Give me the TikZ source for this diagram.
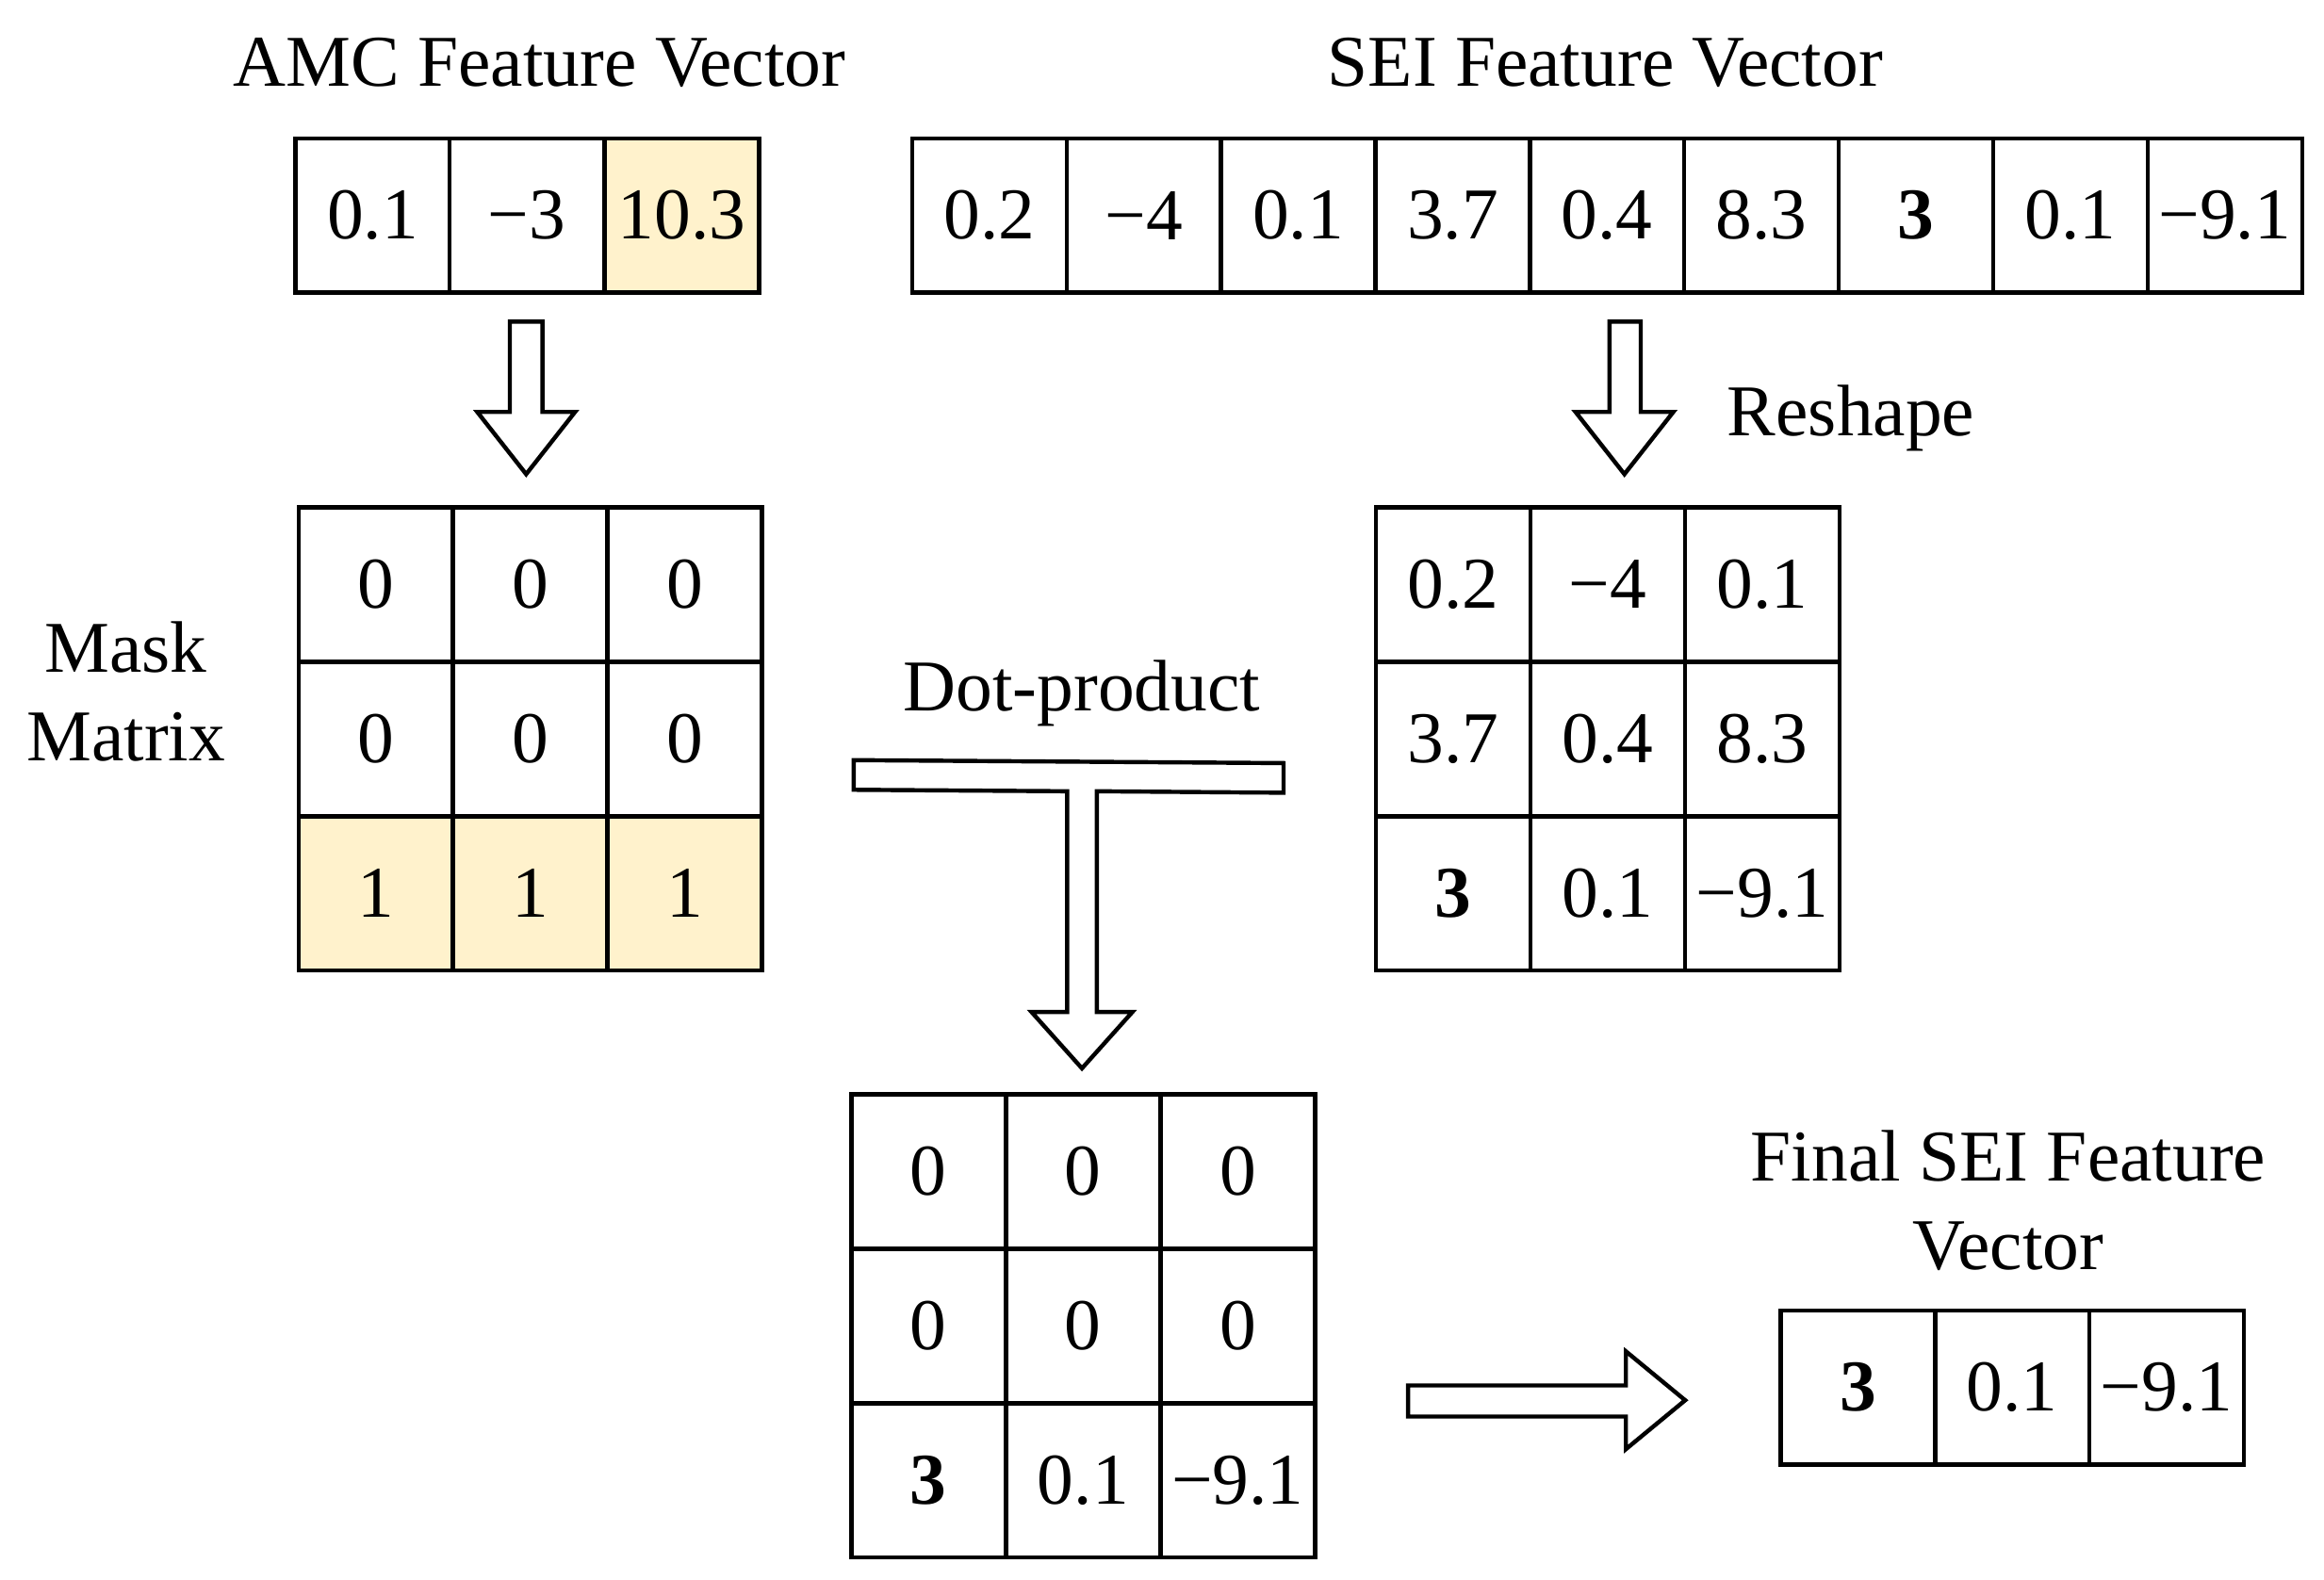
\documentclass[tikz,border=0pt]{standalone}
\usepackage{fontspec}
\setmainfont{Liberation Serif}
\definecolor{hl}{RGB}{255,242,204}
\begin{document}
\begin{tikzpicture}[x=0.01cm,y=-0.01cm,
  lbl/.style={font=\fontsize{14}{17}\selectfont,align=center},
  num/.style={font=\fontsize{14}{17}\selectfont},
  cellbox/.style={draw=black,line width=0.8pt},
  arr/.style={draw=black,line width=0.8pt,fill=white}]
\useasboundingbox (0,0) rectangle (1568,1066);
% cell macro: #1 x, #2 y (top-left), #3 text, #4 fill
\newcommand{\mycell}[5]{\node[cellbox,fill=#4,minimum width=104.2*0.01cm,minimum height=104*0.01cm,inner sep=0pt,anchor=north west,num] (#5) at (#1,#2) {#3};}
% AMC vector
\node[lbl] (tamc) at (364,42) {AMC Feature Vector};
\mycell{198}{92}{0.1}{white}{a1}
\mycell{302}{92}{−3}{white}{a2}
\mycell{406.5}{92}{10.3}{hl}{a3}
% SEI vector
\node[lbl] (tsei) at (1083,42) {SEI Feature Vector};
\foreach \t [count=\i from 0] in {0.2,−4,0.1,3.7,0.4,8.3,\textbf{3},0.1,−9.1}
  {\mycell{614+104.2*\i}{92}{\t}{white}{s\i}}
% down arrows
\draw[arr] (344,217) -- (366,217) -- (366,278) -- (388,278) -- (355,320) -- (322,278) -- (344,278) -- cycle;
\draw[arr] (1086,217) -- (1107,217) -- (1107,278) -- (1129,278) -- (1096,320) -- (1063,278) -- (1086,278) -- cycle;
\node[lbl,anchor=west] (resh) at (1153,282) {Reshape};
% mask matrix
\node[lbl] (mm) at (85,467) {Mask\\Matrix};
\foreach \r in {0,1,2}{\foreach \c in {0,1,2}{
  \ifnum\r=2 \mycell{200+104.3*\c}{341+104.3*\r}{1}{hl}{m\r\c}\else\mycell{200+104.3*\c}{341+104.3*\r}{0}{white}{m\r\c}\fi}}
% reshaped matrix
\mycell{927}{341}{0.2}{white}{r00}\mycell{1031.3}{341}{−4}{white}{r01}\mycell{1135.6}{341}{0.1}{white}{r02}
\mycell{927}{445.3}{3.7}{white}{r10}\mycell{1031.3}{445.3}{0.4}{white}{r11}\mycell{1135.6}{445.3}{8.3}{white}{r12}
\mycell{927}{549.6}{\textbf{3}}{white}{r20}\mycell{1031.3}{549.6}{0.1}{white}{r21}\mycell{1135.6}{549.6}{−9.1}{white}{r22}
% dot product T
\node[lbl] (dp) at (730,468) {Dot-product};
\draw[arr] (576,513) -- (866,515) -- (866,535) -- (740,534) -- (740,683) -- (764,683) -- (730,721) -- (696,683) -- (720,683) -- (720,534) -- (576,533) -- cycle;
% result matrix
\mycell{573}{737}{0}{white}{p00}\mycell{677.3}{737}{0}{white}{p01}\mycell{781.6}{737}{0}{white}{p02}
\mycell{573}{841.3}{0}{white}{p10}\mycell{677.3}{841.3}{0}{white}{p11}\mycell{781.6}{841.3}{0}{white}{p12}
\mycell{573}{945.6}{\textbf{3}}{white}{p20}\mycell{677.3}{945.6}{0.1}{white}{p21}\mycell{781.6}{945.6}{−9.1}{white}{p22}
% right arrow
\draw[arr] (950,935) -- (1097,935) -- (1097,912) -- (1137,945) -- (1097,978) -- (1097,956) -- (950,956) -- cycle;
% final vector
\node[lbl] (tf) at (1355,810) {Final SEI Feature\\Vector};
\mycell{1200}{883}{\textbf{3}}{white}{f0}
\mycell{1304.2}{883}{0.1}{white}{f1}
\mycell{1408.4}{883}{−9.1}{white}{f2}
\end{tikzpicture}
\end{document}
